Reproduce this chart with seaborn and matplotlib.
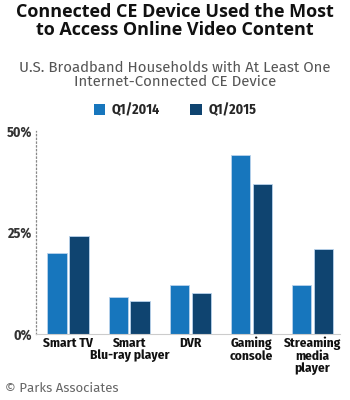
import matplotlib
matplotlib.use("Agg")
import matplotlib.pyplot as plt
import seaborn as sns
import pandas as pd
from matplotlib.patches import Patch

categories = ["Smart TV", "Smart\nBlu-ray player", "DVR", "Gaming\nconsole", "Streaming\nmedia\nplayer"]
q1_2014 = [20, 9, 12, 44, 12]
q1_2015 = [24, 8, 10, 37, 21]
series = ["Q1/2014", "Q1/2015"]
yticks = [0, 25, 50]
ytick_labels = ["0%", "25%", "50%"]

df = pd.DataFrame({
    "device": categories * 2,
    "value": q1_2014 + q1_2015,
    "period": [series[0]] * len(categories) + [series[1]] * len(categories),
})

sns.set_theme(style="white")
cond = ["Fira Sans Condensed", "DejaVu Sans"]
plt.rcParams["font.family"] = ["Open Sans", "DejaVu Sans"]

colors = {"Q1/2014": "#1776bd", "Q1/2015": "#0f4470"}

fig = plt.figure(figsize=(3.5, 4.0), dpi=100)
ax = fig.add_axes([36 / 350, (400 - 334) / 400, (340 - 36) / 350, (334 - 130.7) / 400])

sns.barplot(data=df, x="device", y="value", hue="period", order=categories,
            hue_order=series, palette=colors, saturation=1, width=0.72, gap=0.1,
            edgecolor="#b9d3ec", linewidth=0.6, ax=ax, legend=False)

ax.set_ylim(0, 50)
ax.set_xlim(-0.53, 4.45)
ax.set_yticks(yticks)
ax.set_yticklabels(ytick_labels, family=cond, fontweight="bold", fontsize=10, color="#333333")
ax.set_xticklabels(categories, family=cond, fontweight="bold", fontsize=9.6, color="#111111",
                   linespacing=1.0, va="top")
ax.tick_params(axis="both", length=0, pad=2)
ax.tick_params(axis="y", pad=3)
ax.set_xlabel("")
ax.set_ylabel("")
for s in ["top", "right"]:
    ax.spines[s].set_visible(False)
ax.spines["left"].set_linestyle((0, (1, 2)))
ax.spines["left"].set_color("#888888")
ax.spines["left"].set_linewidth(0.9)
ax.spines["bottom"].set_color("#cccccc")
ax.spines["bottom"].set_linewidth(0.8)

fig.text(0.5, 1 - 21 / 400, "Connected CE Device Used the Most\nto Access Online Video Content",
         ha="center", va="center", fontsize=13, fontweight="bold", color="#111111",
         linespacing=0.95)
fig.text(0.5, 1 - 75 / 400, "U.S. Broadband Households with At Least One\nInternet-Connected CE Device",
         ha="center", va="center", fontsize=10.8, color="#555555", linespacing=1.0,
         family=["Fira Sans", "DejaVu Sans"])

handles = [Patch(facecolor=colors[s], edgecolor="none") for s in series]
fig.legend(handles, series, loc="center", bbox_to_anchor=(0.5, 1 - 110 / 400), ncol=2,
           frameon=False, handlelength=0.8, handleheight=0.8, handletextpad=0.5,
           columnspacing=2.2, prop={"family": cond, "weight": "bold", "size": 10})

fig.text(5 / 350, 1 - 388 / 400, "© Parks Associates", ha="left", va="center",
         fontsize=9.5, color="#666666", family=["Fira Sans", "DejaVu Sans"])

fig.savefig("out.png", dpi=100)
